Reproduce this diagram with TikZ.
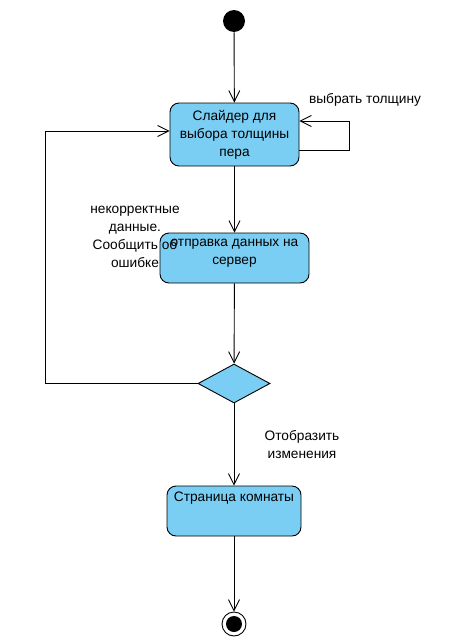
\documentclass[tikz,border=0pt]{standalone}
\usepackage{fontspec}
\setmainfont{Liberation Sans}
\usetikzlibrary{arrows.meta,shapes.geometric}
\definecolor{actblue}{RGB}{122,206,244}

\begin{document}
\begin{tikzpicture}[x=1pt,y=-1pt,
    font=\fontsize{13.7}{18}\selectfont,
    line width=0.9pt,
    action/.style={draw,fill=actblue,rounded corners=9pt,align=center,inner sep=0pt},
    flow/.style={-{Straight Barb[length=11pt,width=11pt,line width=0.9pt]}},
    note/.style={align=center,inner sep=0pt}
]
    \useasboundingbox (0,0) rectangle (459,640);

    % start and end
    \node[circle,fill=black,minimum size=22pt,inner sep=0pt] (start) at (234,21) {};
    \node[circle,draw,minimum size=24pt,inner sep=0pt,
        path picture={\fill (path picture bounding box.center) circle (8pt);}] (stop) at (234,624) {};

    % actions
    \node[action,minimum width=129pt,minimum height=63pt] (slider) at (234.5,134.5)
        {Слайдер для\\выбора толщины\\пера};
    \node[action,minimum width=149pt,minimum height=50pt,
        label={[anchor=north,yshift=-6pt,inner sep=0pt,align=center]north:отправка данных на\\сервер}] (send) at (234.5,258) {};
    \node[draw,fill=actblue,diamond,minimum width=72pt,minimum height=39pt,inner sep=0pt] (check) at (234,383.5) {};
    \node[action,minimum width=134pt,minimum height=50pt,
        label={[anchor=north,yshift=-6pt,inner sep=0pt]north:Страница комнаты}] (room) at (234,511) {};

    % labels on the flows
    \node[note] (errlabel) at (135,237) {некорректные\\данные.\\Сообщить об\\ошибке};
    \node[note] (picklabel) at (365,100) {выбрать толщину};
    \node[note] (showlabel) at (302,445) {Отобразить\\изменения};

    \coordinate (loopA) at (349,150);
    \coordinate (loopB) at (349,121);
    \coordinate (backA) at (45,383.5);
    \coordinate (backB) at (45,131);

    \draw[flow] (start) -- (slider);
    \draw[flow] (slider.east |- loopA) -- (loopA) -- (loopB) -- (slider.east |- loopB);
    \draw[flow] (slider) -- (send);
    \draw[flow] (send) -- (check);
    \draw[flow] (check.west) -- (backA) -- (backB) -- (slider.west |- backB);
    \draw[flow] (check) -- (room);
    \draw[flow] (room) -- (stop);
\end{tikzpicture}
\end{document}
